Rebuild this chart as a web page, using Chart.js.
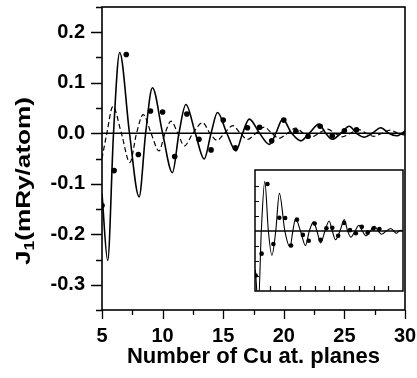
<!DOCTYPE html>
<html>
<head>
<meta charset="utf-8">
<script src="https://cdn.jsdelivr.net/npm/chart.js@4.4.0/dist/chart.umd.min.js"></script>
<style>
  html, body { margin: 0; padding: 0; background: #fff; }
  #wrap { position: relative; width: 417px; height: 378px; }
  #main { position: absolute; left: 0; top: 0; width: 417px; height: 378px; }
  #inset { position: absolute; left: 251px; top: 166px; width: 156px; height: 129px; }
</style>
</head>
<body>
<div id="wrap">
  <canvas id="main" width="417" height="378"></canvas>
  <canvas id="inset" width="156" height="129"></canvas>
</div>
<script>
const FONT = '"Liberation Sans", Arial, Helvetica, sans-serif';

// main panel: solid curve (read at extrema and zero crossings)
const solidN = [5.0, 5.47, 5.95, 6.46, 7.27, 8.06, 8.6, 9.16, 10.0, 10.81, 11.35, 11.92, 12.7, 13.43, 14.0,
  14.53, 15.3, 16.05, 16.6, 17.15, 18.0, 18.8, 19.35, 19.9, 20.65, 21.4, 22.1, 22.9, 23.45, 24.0,
  24.7, 25.4, 26.0, 26.65, 27.3, 28.0, 28.65, 29.3, 30.0];
const solidJ = [-0.12, -0.252, 0, 0.160, 0, -0.126, 0, 0.090, 0, -0.078, 0, 0.057, 0, -0.051, 0,
  0.041, 0, -0.035, 0, 0.028, 0, -0.022, 0, 0.028, 0, -0.015, 0, 0.018, 0, -0.012,
  0, 0.014, 0, -0.008, 0, 0.011, 0, -0.005, 0.004];

// main panel: dashed curve
const dashN = [5.0, 5.4, 5.9, 6.6, 7.3, 7.85, 8.4, 9.05, 9.7, 10.2, 10.7, 11.25, 11.8, 12.5, 13.3, 13.9,
  14.5, 15.1, 15.8, 16.4, 17.0, 17.7, 18.4, 19.0, 19.6, 20.3, 21.0, 21.6, 22.2, 22.9, 23.6, 24.2,
  24.8, 25.5, 26.2, 26.8, 27.4, 28.1, 28.8, 29.4, 30.0];
const dashJ = [-0.050, 0, 0.053, 0, -0.058, 0, 0.037, 0, -0.035, 0, 0.024, 0, -0.025, 0, 0.021, 0,
  -0.014, 0, 0.015, 0, -0.012, 0, 0.012, 0, -0.010, 0, 0.010, 0, -0.008, 0, 0.008, 0,
  -0.007, 0, 0.007, 0, -0.006, 0, 0.006, 0, -0.004];

// main panel: dots (one per Cu plane)
const dotN = [5, 6, 7, 8, 9, 10, 11, 12, 13, 14, 15, 16, 17, 18, 19, 20, 21, 22, 23, 24, 25, 26];
const dotJ = [-0.143, -0.074, 0.156, -0.042, 0.044, 0.042, -0.046, 0.038, -0.012, -0.033, 0.026,
  -0.029, 0.011, 0.012, -0.015, 0.026, 0.004, -0.006, 0.014, -0.005, 0.005, 0.007];

const mainXTicks = [5, 7.5, 10, 12.5, 15, 17.5, 20, 22.5, 25, 27.5, 30];
const xLabels = [5, 10, 15, 20, 25, 30];
const mainYTicks = [-0.35, -0.3, -0.25, -0.2, -0.15, -0.1, -0.05, 0, 0.05, 0.1, 0.15, 0.2, 0.25];

// inset (no labels, arbitrary units)
const insetCurveN = [4.95, 5.45, 5.95, 6.54, 7.15, 7.75, 8.4, 9.02, 9.95, 10.83, 11.3, 11.77, 12.6, 13.44,
  14.1, 14.8, 15.4, 16.02, 16.75, 17.46, 18.0, 18.55, 19.3, 20.04, 20.6, 21.15, 21.85, 22.52, 23.1,
  23.73, 24.45, 25.17, 25.8, 26.39, 27.15, 27.93, 28.4, 28.87, 29.3, 29.69, 30.0];
const insetCurveJ = [-2.6, -5.0, 0, 3.31, 0, -1.62, 0, 2.51, 0, -1.06, 0, 0.82, 0, -0.97,
  0, 0.61, 0, -0.80, 0, 0.67, 0, -0.58, 0, 0.76, 0, -0.41, 0, 0.39, 0,
  -0.32, 0, 0.32, 0, -0.22, 0, 0.17, 0, -0.15, 0, 0.05, 0];
const insetDotN = [5, 6, 7, 8, 9, 10, 11, 12, 13, 14, 15, 16, 17, 18, 19, 20, 21, 22, 23, 24, 25, 26];
const insetDotJ = [-2.97, -1.51, 3.14, -0.87, 0.89, 0.87, -0.97, 0.76, -0.26, -0.65, 0.50,
  -0.58, 0.18, 0.22, -0.32, 0.54, 0.06, -0.15, 0.28, -0.11, 0.18, 0.13];
const insetXTicks = [7.5, 10, 12.5, 15, 17.5, 20, 22.5, 25, 27.5];
const insetYTicks = [-3, -2, -1, 1, 2, 3];

const pts = (xs, ys) => xs.map((x, i) => ({ x: x, y: ys[i] }));
const isTenth = v => Math.abs(Math.round(v * 10) - v * 10) < 1e-6;

function drawYTitle(ctx, cx, cy, len) {
  const big = 'bold 21px ' + FONT, small = 'bold 14px ' + FONT;
  ctx.font = big;
  const wJ = ctx.measureText('J').width;
  const wRest = ctx.measureText('(mRy/atom)').width;
  ctx.font = small;
  const w1 = ctx.measureText('1').width;
  const total = wJ + w1 + wRest;
  ctx.save();
  ctx.translate(cx, cy);
  ctx.rotate(-Math.PI / 2);
  ctx.scale(len / total, 1);
  ctx.fillStyle = '#000';
  ctx.textAlign = 'left';
  ctx.textBaseline = 'alphabetic';
  let x = -total / 2;
  const base = 7;
  ctx.font = big;
  ctx.fillText('J', x, base);
  x += wJ;
  ctx.font = small;
  ctx.fillText('1', x, base + 4);
  x += w1;
  ctx.font = big;
  ctx.fillText('(mRy/atom)', x, base);
  ctx.restore();
}

const mainDecor = {
  id: 'mainDecor',
  beforeDatasetsDraw(chart) {
    const { ctx, chartArea: a, scales: { y } } = chart;
    const y0 = y.getPixelForValue(0);
    ctx.save();
    ctx.strokeStyle = '#000';
    ctx.lineWidth = 1.6;
    ctx.beginPath();
    ctx.moveTo(a.left, y0);
    ctx.lineTo(a.right, y0);
    ctx.stroke();
    ctx.restore();
  },
  afterDraw(chart) {
    const { ctx, chartArea: a, scales: { x, y } } = chart;
    ctx.save();
    ctx.strokeStyle = '#000';
    ctx.lineWidth = 1.6;
    ctx.strokeRect(a.left, a.top, a.right - a.left, a.bottom - a.top);

    ctx.lineWidth = 1.3;
    ctx.beginPath();
    mainXTicks.forEach(v => {
      const px = Math.round(x.getPixelForValue(v)) + 0.5;
      const len = xLabels.includes(v) ? 9 : 5;
      ctx.moveTo(px, a.bottom);
      ctx.lineTo(px, a.bottom + len);
    });
    mainYTicks.forEach(v => {
      const py = Math.round(y.getPixelForValue(v)) + 0.5;
      const len = isTenth(v) ? 11 : 6;
      ctx.moveTo(a.left, py);
      ctx.lineTo(a.left - len, py);
    });
    ctx.stroke();

    ctx.fillStyle = '#000';
    ctx.font = 'bold 22px ' + FONT;
    ctx.textAlign = 'center';
    ctx.textBaseline = 'middle';
    ctx.fillText('Number of Cu at. planes', (a.left + a.right) / 2, 357);
    ctx.restore();

    drawYTitle(ctx, 23, 181, 168);
  }
};

const insetDecor = {
  id: 'insetDecor',
  beforeDraw(chart) {
    const { ctx, chartArea: a } = chart;
    ctx.save();
    ctx.fillStyle = '#fff';
    ctx.fillRect(a.left, a.top, a.right - a.left, a.bottom - a.top);
    ctx.restore();
  },
  beforeDatasetsDraw(chart) {
    const { ctx, chartArea: a, scales: { y } } = chart;
    const y0 = y.getPixelForValue(0);
    ctx.save();
    ctx.strokeStyle = '#000';
    ctx.lineWidth = 1.4;
    ctx.beginPath();
    ctx.moveTo(a.left, y0);
    ctx.lineTo(a.right, y0);
    ctx.stroke();
    ctx.restore();
  },
  afterDraw(chart) {
    const { ctx, chartArea: a, scales: { x, y } } = chart;
    ctx.save();
    ctx.strokeStyle = '#000';
    ctx.lineWidth = 1.5;
    ctx.strokeRect(a.left, a.top, a.right - a.left, a.bottom - a.top);
    ctx.lineWidth = 1.2;
    ctx.beginPath();
    insetXTicks.forEach(v => {
      const px = Math.round(x.getPixelForValue(v)) + 0.5;
      ctx.moveTo(px, a.bottom);
      ctx.lineTo(px, a.bottom - 5);
    });
    insetYTicks.forEach(v => {
      const py = Math.round(y.getPixelForValue(v)) + 0.5;
      ctx.moveTo(a.left, py);
      ctx.lineTo(a.left + 4, py);
    });
    ctx.stroke();
    ctx.restore();
  }
};

new Chart(document.getElementById('main'), {
  type: 'scatter',
  data: {
    datasets: [
      { data: pts(solidN, solidJ), showLine: true, borderColor: '#000', borderWidth: 1.6,
        pointRadius: 0, cubicInterpolationMode: 'monotone', fill: false },
      { data: pts(dashN, dashJ), showLine: true, borderColor: '#000', borderWidth: 1.2, borderDash: [5, 3],
        pointRadius: 0, cubicInterpolationMode: 'monotone', fill: false },
      { data: pts(dotN, dotJ), showLine: false, pointRadius: 2.8, backgroundColor: '#000',
        borderColor: '#000', borderWidth: 0 }
    ]
  },
  options: {
    responsive: false,
    animation: false,
    devicePixelRatio: 1,
    layout: { padding: { top: 7, right: 12, left: 0, bottom: 0 } },
    plugins: { legend: { display: false }, tooltip: { enabled: false } },
    scales: {
      x: {
        type: 'linear', min: 5, max: 30,
        afterBuildTicks: s => { s.ticks = mainXTicks.map(v => ({ value: v })); },
        afterFit: s => { s.height = 68; s.paddingLeft = 0; s.paddingRight = 0; },
        grid: { display: false, drawTicks: false },
        border: { display: false },
        ticks: {
          autoSkip: false, maxRotation: 0, padding: 14, color: '#000',
          font: { family: FONT, size: 20, weight: 'bold' },
          callback: v => xLabels.includes(v) ? String(v) : ''
        }
      },
      y: {
        type: 'linear', min: -0.35, max: 0.25,
        afterBuildTicks: s => { s.ticks = mainYTicks.map(v => ({ value: v })); },
        afterFit: s => { s.width = 102; s.paddingTop = 0; s.paddingBottom = 0; },
        grid: { display: false, drawTicks: false },
        border: { display: false },
        ticks: {
          autoSkip: false, padding: 17, color: '#000',
          font: { family: FONT, size: 20, weight: 'bold' },
          callback: v => {
            if (!isTenth(v)) return '';
            const s = (Math.round(v * 10) / 10).toFixed(1);
            return s === '-0.0' ? '0.0' : s;
          }
        }
      }
    }
  },
  plugins: [mainDecor]
});

new Chart(document.getElementById('inset'), {
  type: 'scatter',
  data: {
    datasets: [
      { data: pts(insetCurveN, insetCurveJ), showLine: true, borderColor: '#000', borderWidth: 1.1,
        pointRadius: 0, cubicInterpolationMode: 'monotone', fill: false },
      { data: pts(insetDotN, insetDotJ), showLine: false, pointRadius: 2.3, backgroundColor: '#000',
        borderColor: '#000', borderWidth: 0 }
    ]
  },
  options: {
    responsive: false,
    animation: false,
    devicePixelRatio: 1,
    layout: { padding: 2 },
    plugins: { legend: { display: false }, tooltip: { enabled: false } },
    scales: {
      x: { type: 'linear', display: false, min: 4.88, max: 30.0 },
      y: { type: 'linear', display: false, min: -4.0, max: 4.07 }
    }
  },
  plugins: [insetDecor]
});
</script>
</body>
</html>
